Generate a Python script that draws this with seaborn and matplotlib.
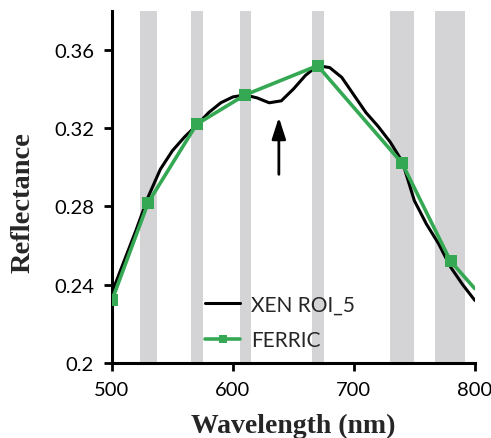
import matplotlib
matplotlib.use("Agg")
import matplotlib.pyplot as plt
import numpy as np
import pandas as pd
import seaborn as sns

# XEN ROI_5 spectrum (10 nm steps)
xen_wl = [500, 510, 520, 530, 540, 550, 560, 570, 580, 590, 600, 610, 620, 630,
          640, 650, 660, 670, 680, 690, 700, 710, 720, 730, 740, 750, 760, 770,
          780, 790, 800]
xen_refl = [0.236, 0.252, 0.268, 0.285, 0.299, 0.3085, 0.3155, 0.3215, 0.328,
            0.333, 0.336, 0.337, 0.3355, 0.333, 0.334, 0.340, 0.347, 0.352,
            0.351, 0.346, 0.337, 0.328, 0.321, 0.313, 0.303, 0.283, 0.271,
            0.261, 0.249, 0.240, 0.232]

# FERRIC band-averaged reflectance
ferric_wl = [500, 530, 570, 610, 670, 740, 780, 800]
ferric_refl = [0.232, 0.282, 0.322, 0.337, 0.352, 0.302, 0.252, 0.238]

# filter bands (nm)
band_lo = [523, 565, 606, 665, 730, 767]
band_hi = [537, 575, 615, 675, 750, 792]

yticks = [0.2, 0.24, 0.28, 0.32, 0.36]
ytick_labels = ["0.2", "0.24", "0.28", "0.32", "0.36"]
xticks = [500, 600, 700, 800]

arrow_wl = 638
arrow_tail, arrow_head = 0.295, 0.327

green = "#35a853"

sns.set_style("ticks")
plt.rcParams["font.family"] = ["Lato", "DejaVu Sans"]

fig = plt.figure(figsize=(4.91, 4.39), dpi=100)
ax = fig.add_axes([0.228, 0.171, 0.739, 0.802])

for lo, hi in zip(band_lo, band_hi):
    ax.axvspan(lo, hi, color="#d4d4d7", lw=0, zorder=0)

df_xen = pd.DataFrame({"wl": xen_wl, "refl": xen_refl})
df_fer = pd.DataFrame({"wl": ferric_wl, "refl": ferric_refl})

sns.lineplot(data=df_xen, x="wl", y="refl", ax=ax, color="black", lw=2.2,
             label="XEN ROI_5", zorder=2)
sns.lineplot(data=df_fer, x="wl", y="refl", ax=ax, color=green, lw=2.6,
             marker="s", markersize=8, markeredgewidth=0,
             markevery=list(range(len(ferric_wl) - 1)),
             label="FERRIC", zorder=3)

ax.annotate("", xy=(arrow_wl, arrow_head), xytext=(arrow_wl, arrow_tail),
            arrowprops=dict(arrowstyle="-|>,head_length=1.3,head_width=0.42",
                            color="black", lw=2))

ax.set_xlim(500, 800)
ax.set_ylim(0.2, 0.38)
ax.set_xticks(xticks)
ax.set_yticks(yticks)
ax.set_yticklabels(ytick_labels)
ax.tick_params(axis="both", labelsize=14.5, width=2, length=6, color="black",
               labelcolor="black", pad=7)
for s in ["left", "bottom"]:
    ax.spines[s].set_linewidth(2.2)
    ax.spines[s].set_color("black")
sns.despine(ax=ax)

ax.set_xlabel("Wavelength (nm)", family="Liberation Serif", fontweight="bold",
              fontsize=20)
ax.set_ylabel("Reflectance", family="Liberation Serif", fontweight="bold",
              fontsize=20.5)
ax.xaxis.set_label_coords(0.5, -0.143)
ax.yaxis.set_label_coords(-0.21, 0.457)

leg = ax.legend(loc="center left", bbox_to_anchor=(0.205, 0.115), frameon=False,
                fontsize=15, handlelength=1.7, handletextpad=0.5,
                labelspacing=0.75, markerscale=0.75)

fig.savefig("out.png", dpi=100)
